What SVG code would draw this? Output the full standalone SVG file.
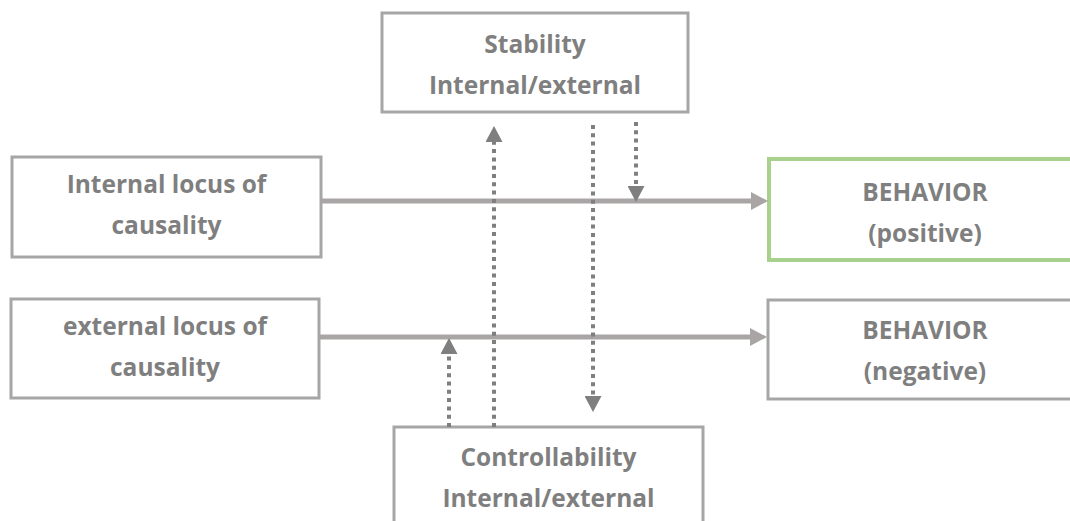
<svg xmlns="http://www.w3.org/2000/svg" width="1070" height="521" viewBox="0 0 1070 521">
  <style>
    .box { fill: #ffffff; stroke: #a6a6a6; stroke-width: 3; }
    .green { fill: #ffffff; stroke: #a9d18e; stroke-width: 4; }
    .lbl { font-family: "Open Sans", "DejaVu Sans", sans-serif; font-weight: bold; font-size: 24.5px; fill: #7f7f7f; text-anchor: middle; }
    .solid { stroke: #a9a5a5; stroke-width: 5; fill: none; }
    .dot { stroke: #7f7f7f; stroke-width: 4; stroke-dasharray: 4 4.3; fill: none; }
  </style>
  <defs>
    <marker id="headSolid" markerUnits="userSpaceOnUse" markerWidth="17" markerHeight="18" refX="0" refY="9" orient="auto">
      <path d="M0,0 L17,9 L0,18 Z" fill="#a9a5a5"/>
    </marker>
    <marker id="headDot" markerUnits="userSpaceOnUse" markerWidth="16" markerHeight="17" refX="0" refY="8.5" orient="auto">
      <path d="M0,0 L16,8.5 L0,17 Z" fill="#7f7f7f"/>
    </marker>
  </defs>

  <g id="stability">
    <rect class="box" x="382" y="13" width="306" height="99"/>
    <text class="lbl" x="535" y="53">Stability</text>
    <text class="lbl" x="535" y="94">Internal/external</text>
  </g>
  <g id="internal-locus">
    <rect class="box" x="12" y="157" width="309" height="100"/>
    <text class="lbl" x="166.5" y="193">Internal locus of</text>
    <text class="lbl" x="166.5" y="234">causality</text>
  </g>
  <g id="external-locus">
    <rect class="box" x="11" y="299" width="308" height="99"/>
    <text class="lbl" x="165" y="335">external locus of</text>
    <text class="lbl" x="165" y="376">causality</text>
  </g>
  <g id="behavior-positive">
    <rect class="green" x="769" y="159" width="320" height="101"/>
    <text class="lbl" x="925" y="201">BEHAVIOR</text>
    <text class="lbl" x="925" y="242">(positive)</text>
  </g>
  <g id="behavior-negative">
    <rect class="box" x="768" y="300" width="320" height="99"/>
    <text class="lbl" x="925" y="339">BEHAVIOR</text>
    <text class="lbl" x="925" y="380">(negative)</text>
  </g>
  <g id="controllability">
    <rect class="box" x="394" y="427" width="309" height="110"/>
    <text class="lbl" x="548.5" y="466">Controllability</text>
    <text class="lbl" x="548.5" y="507">Internal/external</text>
  </g>

  <g id="connectors">
    <line class="solid" x1="322" y1="201" x2="751" y2="201" marker-end="url(#headSolid)"/>
    <line class="solid" x1="320" y1="337" x2="750" y2="337" marker-end="url(#headSolid)"/>
    <line class="dot" x1="494" y1="427" x2="494" y2="142" marker-end="url(#headDot)"/>
    <line class="dot" x1="593" y1="125" x2="593" y2="396" marker-end="url(#headDot)"/>
    <line class="dot" x1="636" y1="122" x2="636" y2="186" marker-end="url(#headDot)"/>
    <line class="dot" x1="449" y1="427" x2="449" y2="354" marker-end="url(#headDot)"/>
  </g>
</svg>
